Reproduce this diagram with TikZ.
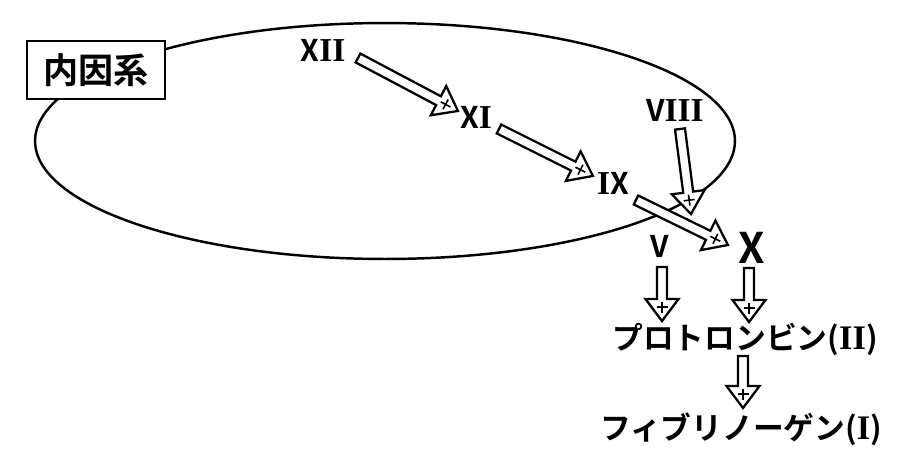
\documentclass[tikz,border=0pt]{standalone}
\usepackage{fontspec}
\setmainfont{Noto Sans CJK JP}[BoldFont={Noto Sans CJK JP Bold}]
\newfontfamily\serifI{Liberation Serif}[Scale=1.12]
\usetikzlibrary{calc}
\newcommand{\RI}{{\serifI\bfseries I}}
\tikzset{
  hollow/.style={draw=black, line width=1.3pt, fill=white, line join=miter},
  plusmark/.style={draw=black, line width=0.9pt},
  numlab/.style={inner sep=0pt, font=\bfseries\fontsize{17}{20}\selectfont},
  biglab/.style={inner sep=0pt, font=\bfseries\fontsize{24}{28}\selectfont},
  katalab/.style={inner sep=0pt, font=\bfseries\fontsize{17.5}{21}\selectfont},
  boxlab/.style={draw=black, line width=1.6pt, fill=white, minimum width=138*0.02cm, minimum height=58*0.02cm, inner sep=0pt, font=\bfseries\fontsize{20}{24}\selectfont},
}
\newcommand{\blockarr}[2]{%
  \pgfpointdiff{\pgfpointanchor{#1}{center}}{\pgfpointanchor{#2}{center}}%
  \pgfgetlastxy{\arrdx}{\arrdy}%
  \pgfmathsetmacro{\arrang}{atan2(\arrdy,\arrdx)}%
  \pgfmathsetmacro{\arrlen}{veclen(\arrdx,\arrdy)/0.569055}%
  \begin{scope}[shift={(#1)}, rotate=\arrang]
    \draw[hollow] (0,-5) -- (\arrlen-22,-5) -- (\arrlen-22,-16.5) -- (\arrlen,0) -- (\arrlen-22,16.5) -- (\arrlen-22,5) -- (0,5) -- cycle;
    \draw[plusmark] (\arrlen-14,-5.5) -- (\arrlen-14,5.5) (\arrlen-19.5,0) -- (\arrlen-8.5,0);
  \end{scope}}
\begin{document}
\begin{tikzpicture}[x=0.02cm, y=0.02cm]
\useasboundingbox (0,0) rectangle (900,-464);
\fill[white] (0,0) rectangle (900,-464);
% ellipse
\draw[line width=1.4pt] (385,-141) ellipse [x radius=7cm, y radius=2.36cm];
% box
\node[boxlab] (naiin) at (96,-70) {内因系};
% labels
\node[numlab] (n12) at (323,-50) {X\RI\RI};
\node[numlab] (n11) at (476,-117) {X\RI};
\node[numlab] (n9) at (613,-183) {\RI X};
\node[numlab] (n8) at (675,-110) {V\RI\RI\RI};
\node[numlab] (n5) at (660,-246) {V};
\node[biglab] (n10) at (752,-248) {X};
\node[katalab] (pro) at (745,-339) {プロトロンビン(\RI\RI)};
\node[katalab] (fib) at (741,-429) {フィブリノーゲン(\RI)};
% arrow end points
\coordinate (a12s) at (358,-58);  \coordinate (a12e) at (458,-111);
\coordinate (a11s) at (499,-129); \coordinate (a11e) at (593,-176);
\coordinate (a9s) at (636,-200);  \coordinate (a9e) at (728,-245);
\coordinate (a8s) at (680,-129);  \coordinate (a8e) at (691,-214);
\coordinate (a5s) at (662,-267);  \coordinate (a5e) at (662,-321);
\coordinate (a10s) at (749,-268); \coordinate (a10e) at (749,-322);
\coordinate (a2s) at (743,-356);  \coordinate (a2e) at (743,-408);
\blockarr{a12s}{a12e}
\blockarr{a11s}{a11e}
\blockarr{a9s}{a9e}
\blockarr{a8s}{a8e}
\blockarr{a5s}{a5e}
\blockarr{a10s}{a10e}
\blockarr{a2s}{a2e}
\end{tikzpicture}
\end{document}
